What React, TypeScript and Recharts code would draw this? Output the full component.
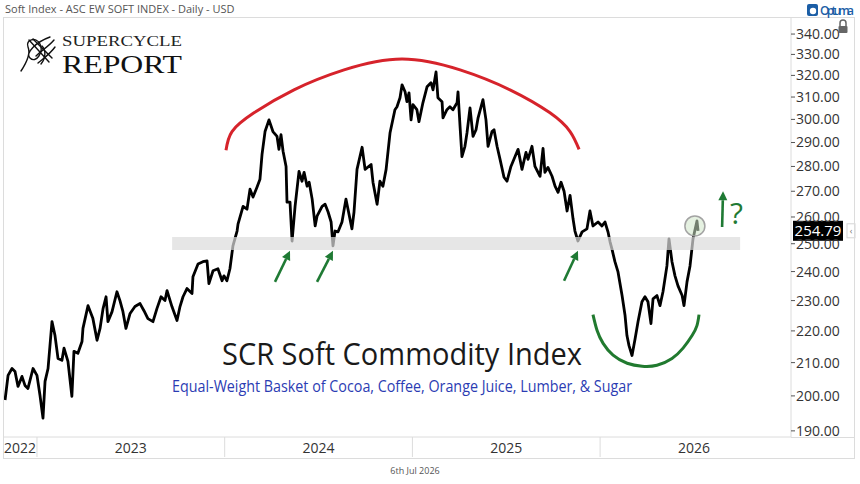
import React from 'react';
import {
  LineChart,
  Line,
  XAxis,
  YAxis,
  ReferenceArea,
  ReferenceLine,
  ReferenceDot,
} from 'recharts';

// Daily closes, dates as fractional years
const dates = [
  2022.83, 2022.846, 2022.867, 2022.883, 2022.899, 2022.92, 2022.936, 2022.952, 2022.979, 2023.0,
  2023.016, 2023.032, 2023.043, 2023.059, 2023.08, 2023.096, 2023.112, 2023.133, 2023.144, 2023.165,
  2023.186, 2023.197, 2023.218, 2023.24, 2023.245, 2023.272, 2023.298, 2023.32, 2023.336, 2023.352,
  2023.368, 2023.378, 2023.4, 2023.426, 2023.442, 2023.458, 2023.474, 2023.496, 2023.522, 2023.549,
  2023.57, 2023.591, 2023.618, 2023.639, 2023.661, 2023.682, 2023.693, 2023.719, 2023.746, 2023.762,
  2023.778, 2023.799, 2023.826, 2023.831, 2023.858, 2023.884, 2023.906, 2023.916, 2023.938, 2023.964,
  2023.986, 2023.996, 2024.012, 2024.028, 2024.044, 2024.066, 2024.071, 2024.098, 2024.119, 2024.135,
  2024.151, 2024.172, 2024.188, 2024.199, 2024.215, 2024.236, 2024.257, 2024.279, 2024.289, 2024.3,
  2024.311, 2024.327, 2024.332, 2024.348, 2024.359, 2024.375, 2024.396, 2024.412, 2024.423, 2024.439,
  2024.45, 2024.466, 2024.482, 2024.492, 2024.519, 2024.535, 2024.551, 2024.567, 2024.577, 2024.588,
  2024.604, 2024.625, 2024.646, 2024.657, 2024.678, 2024.689, 2024.705, 2024.732, 2024.748, 2024.78,
  2024.79, 2024.812, 2024.827, 2024.843, 2024.86, 2024.881, 2024.907, 2024.918, 2024.934, 2024.945,
  2024.961, 2024.971, 2024.982, 2024.993, 2025.003, 2025.024, 2025.035, 2025.056, 2025.078, 2025.099,
  2025.11, 2025.126, 2025.136, 2025.158, 2025.163, 2025.184, 2025.2, 2025.216, 2025.238, 2025.243,
  2025.254, 2025.264, 2025.28, 2025.291, 2025.307, 2025.323, 2025.339, 2025.35, 2025.376, 2025.392,
  2025.403, 2025.424, 2025.435, 2025.451, 2025.467, 2025.488, 2025.504, 2025.525, 2025.547, 2025.563,
  2025.584, 2025.605, 2025.616, 2025.637, 2025.653, 2025.68, 2025.696, 2025.706, 2025.722, 2025.744,
  2025.76, 2025.776, 2025.792, 2025.808, 2025.824, 2025.84, 2025.856, 2025.866, 2025.882, 2025.904,
  2025.93, 2025.946, 2025.962, 2025.989, 2026.01, 2026.026, 2026.042, 2026.053, 2026.063, 2026.079,
  2026.095, 2026.117, 2026.133, 2026.143, 2026.154, 2026.17, 2026.186, 2026.202, 2026.223, 2026.239,
  2026.255, 2026.271, 2026.282, 2026.303, 2026.319, 2026.335, 2026.356, 2026.367, 2026.383, 2026.399,
  2026.415, 2026.437, 2026.447, 2026.463, 2026.479, 2026.495, 2026.516, 2026.522,
];

const closes = [
  198.8, 206.1, 208.2, 207.3, 202.8, 205.8, 203.1, 202.2, 208.2, 206.1,
  200.2, 193.6, 204.3, 208.2, 223.0, 218.5, 211.3, 210.7, 214.5, 210.4,
  199.9, 213.5, 212.9, 216.6, 220.8, 228.3, 224.0, 217.0, 220.8, 227.3,
  231.3, 223.0, 226.3, 233.0, 230.0, 226.3, 220.8, 225.7, 228.0, 229.0,
  226.6, 224.0, 223.0, 227.3, 231.3, 230.0, 233.4, 228.0, 223.4, 228.0,
  231.3, 234.1, 232.4, 238.2, 242.7, 243.5, 243.8, 235.8, 240.3, 241.0,
  236.8, 238.5, 236.8, 241.0, 249.2, 254.7, 257.3, 264.1, 263.0, 270.8,
  267.7, 271.6, 274.8, 285.0, 294.7, 299.8, 294.7, 292.6, 287.1, 293.4,
  286.3, 280.0, 265.7, 265.7, 251.0, 264.1, 278.0, 274.0, 277.6, 272.0,
  273.6, 266.9, 256.6, 260.3, 264.1, 264.9, 261.9, 258.1, 249.2, 254.7,
  254.4, 258.1, 266.9, 263.0, 255.5, 261.9, 278.8, 288.0, 278.8, 280.8,
  273.6, 264.9, 274.0, 272.0, 278.8, 294.2, 304.3, 305.6, 309.7, 315.6,
  312.4, 307.9, 311.9, 299.8, 306.6, 304.3, 299.0, 307.4, 314.7, 316.6,
  313.3, 321.6, 309.7, 307.9, 300.7, 304.3, 305.6, 304.3, 307.4, 312.4,
  296.8, 284.1, 288.4, 294.2, 305.1, 292.6, 295.5, 300.7, 308.8, 299.8,
  288.4, 294.7, 295.5, 288.4, 282.9, 275.6, 274.0, 280.0, 284.1, 287.1,
  278.8, 285.8, 282.9, 288.4, 280.0, 276.0, 287.5, 277.6, 279.6, 276.0,
  272.0, 269.6, 273.6, 270.0, 262.3, 268.4, 259.2, 254.7, 251.0, 254.4,
  255.5, 262.3, 256.6, 258.1, 256.6, 258.1, 254.4, 250.7, 248.1, 243.5,
  240.0, 231.7, 225.0, 218.5, 215.3, 212.2, 217.3, 223.0, 229.6, 231.3,
  229.6, 222.4, 230.6, 231.7, 228.3, 233.0, 242.0, 251.8, 243.5, 238.5,
  235.0, 231.7, 228.3, 236.4, 242.0, 251.8, 258.5, 254.79,
];

const priceTicks = [190, 200, 210, 220, 230, 240, 250, 260, 270, 280, 290, 300, 310, 320, 330, 340];
const yearStarts = [2023, 2024, 2025, 2026];
const yearLabelAt = [2022.91, 2023.5, 2024.5, 2025.5, 2026.5];

// support zone
const bandLow = 247.7;
const bandHigh = 252.5;
const bandFrom = 2023.72;
const bandTo = 2026.746;

// rounding top
const topArcDates = [2024.007, 2024.039, 2024.156, 2024.369, 2024.636, 2024.945, 2025.254, 2025.52, 2025.733, 2025.84, 2025.888];
const topArcValues = [286.7, 294.7, 302.9, 313.3, 322.6, 327.8, 322.6, 313.3, 302.9, 294.7, 287.1];

// rounding bottom
const baseArcDates = [2025.962, 2025.984, 2026.016, 2026.069, 2026.144, 2026.224, 2026.303, 2026.383, 2026.442, 2026.49, 2026.516, 2026.527];
const baseArcValues = [225.3, 220.1, 216.0, 212.3, 209.8, 208.9, 209.2, 211.3, 214.5, 218.5, 221.7, 225.3];

// support tests: [tail date, tail value, head date, head value]
const supportTests = [
  [2024.268, 236.4, 2024.348, 247.4],
  [2024.492, 236.4, 2024.577, 247.4],
  [2025.808, 236.8, 2025.882, 247.4],
];
const breakout = [2026.65, 256.2, 2026.655, 270.0];
const lastClose = 254.79;
const lastDate = 2026.505;
const lastMarkValue = 256.6;

const priceRows = dates.map((t, i) => ({ t, v: closes[i] }));
const topArc = topArcDates.map((t, i) => ({ t, v: topArcValues[i] }));
const baseArc = baseArcDates.map((t, i) => ({ t, v: baseArcValues[i] }));

const GREEN = '#1f7a34';
const FONT = '"Open Sans", "Noto Sans", sans-serif';
const SERIF = '"Liberation Serif", "DejaVu Serif", serif';

function YearTick(props: any) {
  const { x, y, payload } = props;
  const v = payload.value;
  if (Number.isInteger(v)) {
    return <line x1={x} x2={x} y1={y} y2={y + 20} stroke="#dcdcdc" />;
  }
  return (
    <text x={x} y={y + 16} textAnchor="middle" fontSize={14} fill="#333" fontFamily={FONT}>
      {Math.floor(v)}
    </text>
  );
}

function Arrow(props: any) {
  const { x1, y1, x2, y2, note } = props;
  const a = Math.atan2(y2 - y1, x2 - x1);
  const len = 9;
  const half = 4.5;
  const bx = x2 - len * Math.cos(a);
  const by = y2 - len * Math.sin(a);
  const px = -Math.sin(a) * half;
  const py = Math.cos(a) * half;
  return (
    <g>
      <line x1={x1} y1={y1} x2={bx} y2={by} stroke={GREEN} strokeWidth={2.6} />
      <polygon points={`${x2},${y2} ${bx + px},${by + py} ${bx - px},${by - py}`} fill={GREEN} />
      {note ? (
        <text x={x2 + 7} y={y1 - 3} fontSize={30} fill={GREEN} fontFamily={FONT}>
          {note}
        </text>
      ) : null}
    </g>
  );
}

function PriceTag(props: any) {
  const { viewBox } = props;
  if (!viewBox) return null;
  const x = viewBox.x + viewBox.width + 2;
  const y = viewBox.y;
  return (
    <g>
      <rect x={x} y={y - 10} width={50} height={20} fill="#000" />
      <text x={x + 25} y={y + 5.5} textAnchor="middle" fontSize={15} fill="#fff" fontFamily={FONT}>
        {lastClose.toFixed(2)}
      </text>
      <rect x={x + 54} y={y - 7} width={8} height={14} fill="#fff" stroke="#d5d5d5" />
      <text x={x + 58} y={y + 3} textAnchor="middle" fontSize={9} fill="#777" fontFamily={FONT}>
        ‹
      </text>
    </g>
  );
}

export default function App() {
  return (
    <div style={{ position: 'absolute', left: 0, top: 0, width: 860, height: 484, background: '#fff' }}>
      <LineChart
        width={860}
        height={484}
        data={priceRows}
        margin={{ top: 18, right: 17, bottom: 26, left: 3 }}
      >
        <XAxis
          dataKey="t"
          type="number"
          domain={[2022.819, 2027.017]}
          allowDataOverflow
          ticks={[...yearStarts, ...yearLabelAt].sort((a, b) => a - b)}
          interval={0}
          tick={<YearTick />}
          tickLine={false}
          tickSize={0}
          tickMargin={0}
          height={21}
          axisLine={{ stroke: '#dcdcdc' }}
        />
        <YAxis
          orientation="right"
          scale="log"
          domain={[188.3, 348.1]}
          allowDataOverflow
          ticks={priceTicks}
          interval={0}
          width={52}
          tickFormatter={(v: number) => v.toFixed(2)}
          tick={{ fontSize: 14, fill: '#333', fontFamily: FONT }}
          tickSize={4}
          tickMargin={1}
          tickLine={{ stroke: '#555' }}
          axisLine={{ stroke: '#dcdcdc' }}
        />
        <Line
          data={topArc}
          dataKey="v"
          type="natural"
          stroke="#d6232b"
          strokeWidth={3}
          dot={false}
          isAnimationActive={false}
        />
        <Line
          data={baseArc}
          dataKey="v"
          type="natural"
          stroke="#217a2f"
          strokeWidth={3}
          dot={false}
          isAnimationActive={false}
        />
        <Line
          dataKey="v"
          type="linear"
          stroke="#000"
          strokeWidth={2.8}
          strokeLinejoin="round"
          dot={false}
          isAnimationActive={false}
        />
        <ReferenceArea
          x1={bandFrom}
          x2={bandTo}
          y1={bandLow}
          y2={bandHigh}
          fill="#dcdcdc"
          fillOpacity={0.7}
          stroke="none"
          zIndex={600}
        />
        <ReferenceDot
          x={lastDate}
          y={lastMarkValue}
          r={10}
          fill="#cfe5c8"
          fillOpacity={0.55}
          stroke="#a3a3a3"
          strokeWidth={1.5}
          zIndex={600}
        />
        {supportTests.map((a, i) => (
          <ReferenceLine
            key={i}
            segment={[{ x: a[0], y: a[1] }, { x: a[2], y: a[3] }]}
            shape={(p: any) => <Arrow {...p} />}
          />
        ))}
        <ReferenceLine
          segment={[{ x: breakout[0], y: breakout[1] }, { x: breakout[2], y: breakout[3] }]}
          shape={(p: any) => <Arrow {...p} note="?" />}
        />
        <ReferenceLine y={lastClose} stroke="none" label={(p: any) => <PriceTag {...p} />} />
      </LineChart>

      <svg
        width={860}
        height={484}
        style={{ position: 'absolute', left: 0, top: 0, pointerEvents: 'none' }}
      >
        {/* panel frame */}
        <line x1={3} x2={855} y1={17.5} y2={17.5} stroke="#dcdcdc" />
        <line x1={3.5} x2={3.5} y1={17} y2={458} stroke="#dcdcdc" />
        <line x1={854.5} x2={854.5} y1={17} y2={458} stroke="#dcdcdc" />
        <line x1={3} x2={855} y1={458.5} y2={458.5} stroke="#dcdcdc" />
        <line x1={791} x2={855} y1={437.5} y2={437.5} stroke="#dcdcdc" />

        <text x={5} y={13} fontSize={11} fill="#555" fontFamily={FONT}>
          Soft Index - ASC EW SOFT INDEX - Daily - USD
        </text>

        {/* Optuma badge */}
        <rect x={807} y={4} width={11} height={12} rx={2} fill="#1b5ea6" />
        <circle cx={813} cy={11} r={3.2} fill="#fff" />
        <text x={820} y={15} fontSize={12} fontWeight={600} fill="#1b5ea6" fontFamily={FONT} textLength={34}>
          Optuma
        </text>

        {/* lock */}
        <path d="M840 26 v-3 a3 3 0 0 1 6 0 v3" fill="none" stroke="#666" strokeWidth={1.5} />
        <rect x={838.5} y={26} width={9} height={7} rx={1} fill="#666" />

        {/* logo mark */}
        <g fill="none" stroke="#111" strokeWidth={1.4} strokeLinecap="round">
          <path d="M21 71 C 27 62, 31 54, 28 47 C 25 40, 36 36, 40 44 C 44 52, 36 64, 30 58 C 25 53, 36 42, 50 37" />
          <path d="M29 40 L 49 62" />
          <path d="M33 39 L 52 58" />
          <path d="M36 56 C 42 50, 48 47, 54 40" />
          <path d="M38 63 C 44 58, 50 54, 55 47" />
          <path d="M42 46 C 46 50, 46 58, 41 64" />
        </g>
        <text x={62} y={46} fontSize={15} fill="#222" fontFamily={SERIF} textLength={120} lengthAdjust="spacingAndGlyphs">
          SUPERCYCLE
        </text>
        <text x={62} y={73} fontSize={26} fill="#111" fontFamily={SERIF} textLength={120} lengthAdjust="spacingAndGlyphs">
          REPORT
        </text>

        {/* titles */}
        <text x={402} y={365} fontSize={31} textAnchor="middle" fill="#1a1a1a" fontFamily={FONT} textLength={360} lengthAdjust="spacingAndGlyphs">
          SCR Soft Commodity Index
        </text>
        <text x={402} y={392} fontSize={15.5} textAnchor="middle" fill="#2b3cb3" fontFamily={FONT} textLength={460} lengthAdjust="spacingAndGlyphs">
          Equal-Weight Basket of Cocoa, Coffee, Orange Juice, Lumber, &amp; Sugar
        </text>

        <text x={415} y={474} fontSize={9} textAnchor="middle" fill="#555" fontFamily={FONT}>
          6th Jul 2026
        </text>
      </svg>
    </div>
  );
}
